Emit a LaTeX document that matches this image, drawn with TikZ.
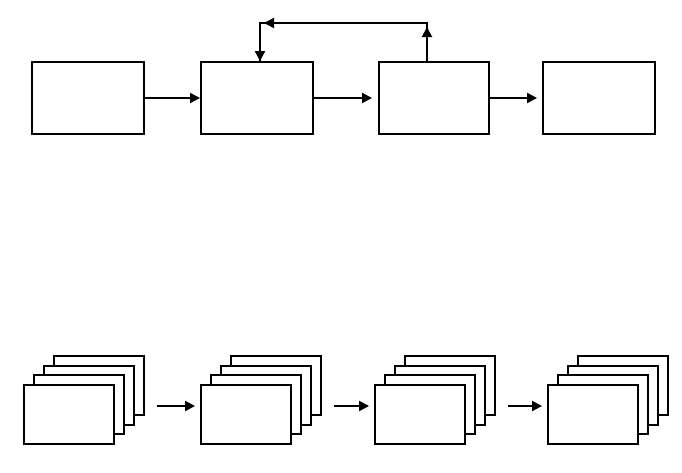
\documentclass[tikz,border=0pt]{standalone}
\usetikzlibrary{arrows.meta,calc}
\begin{document}
\begin{tikzpicture}[x=1pt,y=-1pt,line width=1.9pt,
  blk/.style={draw,rectangle,inner sep=0pt,minimum width=112pt,minimum height=72pt,fill=white},
  lay/.style={draw,rectangle,inner sep=0pt,minimum width=90pt,minimum height=59pt,fill=white},
  arr/.style={-{Triangle[length=10pt,width=10pt]}}]
\useasboundingbox (0,0) rectangle (682,472);
% top row
\node[blk] (b1) at (88,98) {};
\node[blk] (b2) at (257,98) {};
\node[blk,minimum width=110pt] (b3) at (434,98) {};
\node[blk] (b4) at (599,98) {};
\draw[arr] (b1.east) -- (b2.west);
\draw[arr] (b2.east) -- ($(b3.west)+(-6,0)$);
\draw[arr] (b3.east) -- ($(b4.west)+(-5,0)$);
% feedback
\coordinate (u) at (427,23);
\coordinate (l) at (260,23);
\draw (b3.north -| u) -- (u) -- (l) -- (b2.north -| l);
\draw[arr] (b3.north -| u) -- ($(u)+(0,4)$);
\draw[arr] (u) -- ($(l)+(4,0)$);
\draw[arr] (l) -- (b2.north -| l);
% bottom stacks
\foreach \s/\L in {1/24,2/201,3/375,4/548}{
  \foreach \k in {3,2,1,0}{
    \node[lay] (s\s l\k) at ({\L+45+10*\k},{414.5-9.7*\k}) {};
  }
}
\foreach \a/\b in {1/2,2/3,3/4}{
  \coordinate (st\a) at ($(s\a l3.east)+(12,0)$);
  \coordinate (en\a) at ($(s\b l0.west)+(-5,0)$);
  \draw[arr] (st\a |- 0,406) -- (en\a |- 0,406);
}
\end{tikzpicture}
\end{document}
